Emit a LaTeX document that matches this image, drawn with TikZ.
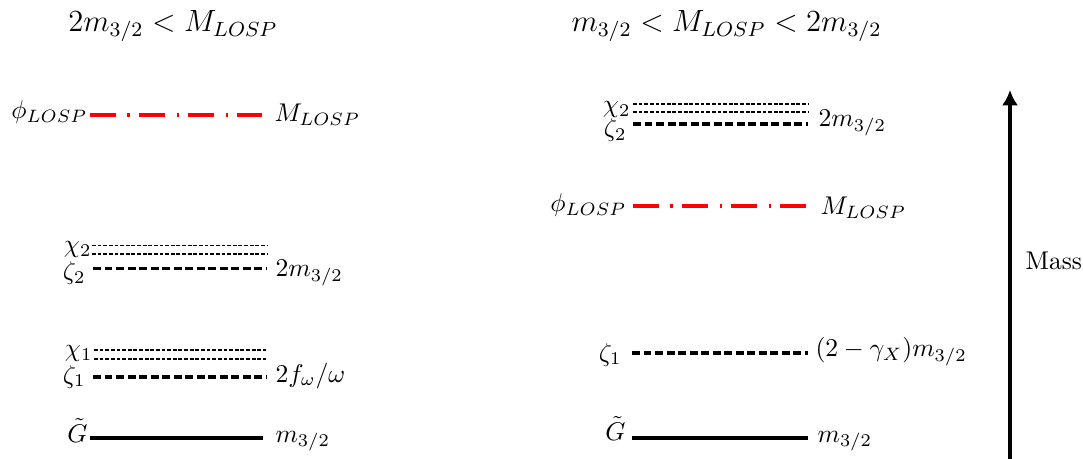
\documentclass[tikz,border=0pt]{standalone}
\usetikzlibrary{arrows.meta}
\begin{document}
\begin{tikzpicture}[x=0.3906pt,y=-0.3906pt,
  solidlvl/.style={line width=1.2pt},
  thickdash/.style={line width=1.2pt,dash pattern=on 3.1pt off 1.4pt},
  thindash/.style={line width=0.6pt,dash pattern=on 1.5pt off 0.7pt},
  losp/.style={red,line width=1.2pt,dash pattern=on 10.2pt off 4.4pt on 1pt off 3.6pt},
  lname/.style={anchor=base east,inner sep=0pt},
  lval/.style={anchor=base west,inner sep=0pt}]
\useasboundingbox (0,0) rectangle (1083,459);
% left: 2m_{3/2} < M_LOSP
\node[anchor=base,font=\large] (titleL) at (173,32) {$2m_{3/2}<M_{LOSP}$};
\coordinate (pL1) at (90,115); \coordinate (pL2) at (262,115);
\coordinate (xbL1) at (92,245.5); \coordinate (xbL2) at (267,245.5); \coordinate (xbL3) at (92,254); \coordinate (xbL4) at (267,254);
\coordinate (zbL1) at (93,268.5); \coordinate (zbL2) at (267,268.5);
\coordinate (xaL1) at (94,350); \coordinate (xaL2) at (266,350); \coordinate (xaL3) at (94,359); \coordinate (xaL4) at (266,359);
\coordinate (zaL1) at (93,377); \coordinate (zaL2) at (266,377);
\coordinate (gL1) at (90,438); \coordinate (gL2) at (263,438);
\draw[losp] (pL1)--(pL2);
\draw[thindash] (xbL1)--(xbL2) (xbL3)--(xbL4);
\draw[thickdash] (zbL1)--(zbL2);
\draw[thindash] (xaL1)--(xaL2) (xaL3)--(xaL4);
\draw[thickdash] (zaL1)--(zaL2);
\draw[solidlvl] (gL1)--(gL2);
\node[lname] (phiL) at (88,119) {$\phi_{LOSP}$};
\node[lval] (MlospL) at (274,122) {$M_{LOSP}$};
\node[lname] (chiTwoL) at (92,253) {$\chi_2$};
\node[lname] (zetaTwoL) at (86,280) {$\zeta_2$};
\node[lval] (twomL) at (275,277) {$2m_{3/2}$};
\node[lname] (chiOneL) at (93,357) {$\chi_1$};
\node[lname] (zetaOneL) at (86,383) {$\zeta_1$};
\node[lval] (fomL) at (275,382) {$2f_\omega/\omega$};
\node[lname] (GL) at (88,442) {$\tilde G$};
\node[lval] (mL) at (275,442) {$m_{3/2}$};
% right: m_{3/2} < M_LOSP < 2m_{3/2}
\node[anchor=base,font=\large] (titleR) at (726.5,32) {$m_{3/2}<M_{LOSP}<2m_{3/2}$};
\coordinate (xR1) at (633,104); \coordinate (xR2) at (808,104); \coordinate (xR3) at (633,112); \coordinate (xR4) at (808,112);
\coordinate (zbR1) at (633,124); \coordinate (zbR2) at (808,124);
\coordinate (pR1) at (633,206); \coordinate (pR2) at (806,206);
\coordinate (zaR1) at (632,353); \coordinate (zaR2) at (808,353);
\coordinate (gR1) at (632,438); \coordinate (gR2) at (808,438);
\draw[thindash] (xR1)--(xR2) (xR3)--(xR4);
\draw[thickdash] (zbR1)--(zbR2);
\draw[losp] (pR1)--(pR2);
\draw[thickdash] (zaR1)--(zaR2);
\draw[solidlvl] (gR1)--(gR2);
\node[lname] (chiTwoR) at (631,113) {$\chi_2$};
\node[lname] (zetaTwoR) at (627,137) {$\zeta_2$};
\node[lval] (twomR) at (818,127) {$2m_{3/2}$};
\node[lname] (phiR) at (627,212) {$\phi_{LOSP}$};
\node[lval] (MlospR) at (820,215) {$M_{LOSP}$};
\node[lname] (zetaOneR) at (622,361) {$\zeta_1$};
\node[lval] (gamR) at (815,357) {$(2-\gamma_X)m_{3/2}$};
\node[lname] (GR) at (626,440) {$\tilde G$};
\node[lval] (mR) at (817,442) {$m_{3/2}$};
% mass axis
\coordinate (ax1) at (1010,459); \coordinate (ax2) at (1010,90);
\draw[line width=1.3pt,-{Latex[length=6pt,width=6.3pt]}] (ax1)--(ax2);
\node[lval] (mass) at (1025,270) {Mass};
\end{tikzpicture}
\end{document}
